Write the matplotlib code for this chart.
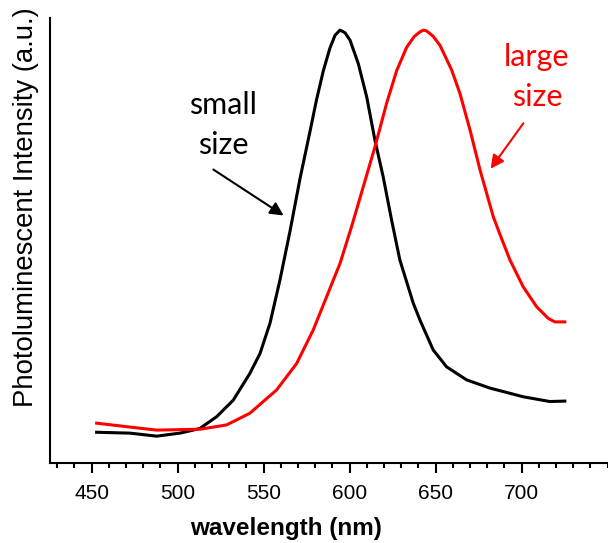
import matplotlib
matplotlib.use("Agg")
import matplotlib.pyplot as plt
from matplotlib.ticker import MultipleLocator

# ---- data ----
wl_small = [452.9, 472.3, 487.8, 501.3, 509.1, 513.0, 522.7, 532.3, 542.0, 547.9,
            553.7, 559.5, 565.3, 571.2, 576.9, 580.8, 584.7, 588.5, 591.5, 594.4,
            597.3, 600.2, 605.0, 609.9, 614.7, 619.5, 624.4, 629.2, 637.0, 640.9,
            648.6, 656.4, 668.0, 681.6, 700.9, 716.4, 725.1]
pl_small = [0.071, 0.069, 0.062, 0.069, 0.076, 0.080, 0.107, 0.145, 0.207, 0.253,
            0.323, 0.423, 0.535, 0.658, 0.765, 0.840, 0.906, 0.958, 0.988, 1.000,
            0.994, 0.977, 0.923, 0.846, 0.746, 0.661, 0.561, 0.469, 0.369, 0.330,
            0.261, 0.222, 0.192, 0.173, 0.153, 0.142, 0.143]

wl_large = [452.9, 472.3, 487.8, 513.0, 528.5, 542.0, 557.6, 569.2, 578.8, 586.6,
            594.4, 601.2, 607.9, 614.7, 621.5, 627.3, 633.1, 637.5, 640.9, 642.9,
            644.8, 648.5, 652.5, 659.3, 664.1, 670.0, 675.8, 683.5, 687.4, 693.2,
            700.9, 708.7, 715.5, 719.3, 725.1]
pl_large = [0.092, 0.083, 0.076, 0.078, 0.088, 0.115, 0.169, 0.230, 0.307, 0.384,
            0.461, 0.547, 0.638, 0.730, 0.831, 0.906, 0.960, 0.985, 0.996, 1.000,
            0.998, 0.986, 0.965, 0.908, 0.854, 0.769, 0.677, 0.569, 0.528, 0.469,
            0.407, 0.361, 0.334, 0.326, 0.326]

x_ticks = [450, 500, 550, 600, 650, 700]

plt.rcParams['font.family'] = ['Liberation Sans', 'DejaVu Sans']

fig = plt.figure(figsize=(6.08, 5.43), dpi=100)
ax = fig.add_axes([50/608, 1-463/543, 1-50/608, (463-18)/543])

ax.plot(wl_small, pl_small, color='black', lw=2.2, solid_joinstyle='round')
ax.plot(wl_large, pl_large, color='#ff0000', lw=2.2, solid_joinstyle='round')

ax.set_xlim(425.8, 750.2)
ax.set_ylim(0, 1.028)
ax.spines['top'].set_visible(False)
ax.spines['right'].set_visible(False)
ax.spines['left'].set_linewidth(1.5)
ax.spines['bottom'].set_linewidth(1.5)
ax.set_yticks([])
ax.set_xticks(x_ticks)
ax.xaxis.set_minor_locator(MultipleLocator(10))
ax.tick_params(axis='x', which='major', direction='out', length=7.2, width=1.5,
               labelsize=15, pad=8)
ax.tick_params(axis='x', which='minor', direction='out', length=3.6, width=1.5)

def px(x, y):
    return (x/608, 1-y/543)

fig.text(*px(286.5, 528), 'wavelength (nm)', ha='center', va='center',
         fontsize=17.5, fontweight='bold')
fig.text(*px(26, 207), 'Photoluminescent Intensity (a.u.)', rotation=90,
         ha='center', va='center', fontsize=19.8)

# annotations
ann_font = ['Lato', 'DejaVu Sans']
fig.text(*px(223, 105), 'small', ha='center', va='center', fontsize=22, family=ann_font)
fig.text(*px(223, 145), 'size', ha='center', va='center', fontsize=22, family=ann_font)
fig.text(*px(537, 57), 'large', ha='center', va='center', fontsize=22, family=ann_font, color='#ff0000')
fig.text(*px(537, 97), 'size', ha='center', va='center', fontsize=22, family=ann_font, color='#ff0000')

ax.annotate('', xy=px(286, 217), xycoords='figure fraction',
            xytext=px(211, 168), textcoords='figure fraction',
            arrowprops=dict(arrowstyle='-|>,head_length=0.8,head_width=0.4', color='black', lw=1.5))
ax.annotate('', xy=px(489, 171), xycoords='figure fraction',
            xytext=px(525, 121), textcoords='figure fraction',
            arrowprops=dict(arrowstyle='-|>,head_length=0.8,head_width=0.4', color='#ff0000', lw=1.5))

fig.savefig('out.png', dpi=100)
